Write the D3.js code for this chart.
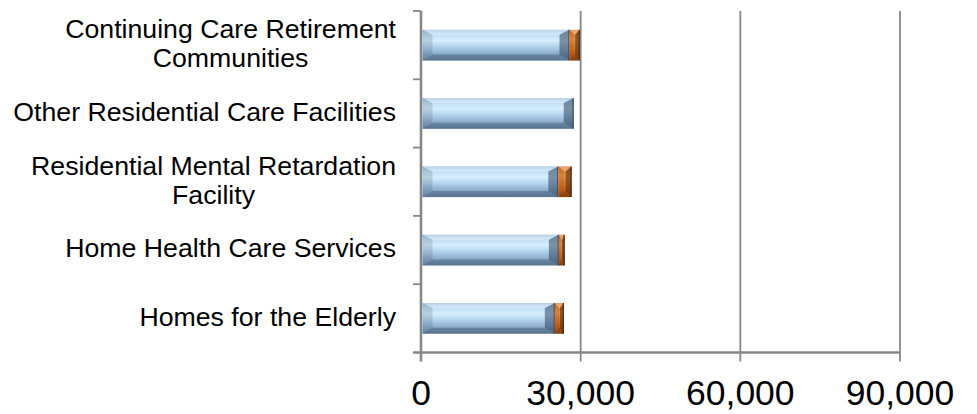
<!DOCTYPE html>
<html>
<head>
<meta charset="utf-8">
<script src="https://cdn.jsdelivr.net/npm/d3@7"></script>
<style>
  html, body { margin: 0; padding: 0; background: #ffffff; }
  svg { display: block; }
</style>
</head>
<body>
<div id="chart"></div>
<script>
// ---- data (top to bottom as displayed) ----
const categories = [
  "Continuing Care Retirement Communities",
  "Other Residential Care Facilities",
  "Residential Mental Retardation Facility",
  "Home Health Care Services",
  "Homes for the Elderly"
];
const seriesBlue   = [27900, 28700, 25800, 25900, 25150];
const seriesOrange = [1950, 0, 2500, 1100, 1700];
const tickValues = [0, 30000, 60000, 90000];

// ---- layout ----
const W = 977, H = 414;
const plot = { left: 421, right: 900, top: 11, bottom: 352.5 };

const svg = d3.select("#chart").append("svg")
  .attr("width", W).attr("height", H)
  .attr("font-family", "'Liberation Sans', Arial, sans-serif");

const x = d3.scaleLinear().domain([0, 90000]).range([plot.left, plot.right]);
const y = d3.scaleBand().domain(categories).range([plot.top, plot.bottom])
  .paddingInner(0.55).paddingOuter(0.275);
const yEdge = d3.scaleLinear().domain([0, categories.length]).range([plot.top, plot.bottom]);

const defs = svg.append("defs");
function vGrad(id, stops) {
  const g = defs.append("linearGradient").attr("id", id)
    .attr("x1", 0).attr("y1", 0).attr("x2", 0).attr("y2", 1);
  stops.forEach(s => g.append("stop").attr("offset", s[0]).attr("stop-color", s[1]));
}
vGrad("blueBody", [[0, "#9bbddc"], [0.12, "#bcdcf3"], [0.35, "#d6effd"], [0.55, "#b3d3ed"], [0.8, "#88a9c8"], [1, "#6e8daa"]]);
vGrad("orangeBody", [[0, "#d9762c"], [0.3, "#f29a4e"], [0.6, "#df7a2b"], [1, "#a9531a"]]);

const gridColor = "#878787";

// gridlines (vertical)
svg.append("g").selectAll("line.grid")
  .data(tickValues.slice(1))
  .join("line")
  .attr("x1", d => x(d)).attr("x2", d => x(d))
  .attr("y1", plot.top).attr("y2", plot.bottom + 9)
  .attr("stroke", gridColor).attr("stroke-width", 1.8);

// bevelled bar segment
function bevelSeg(g, x0, x1, yy, h, body, dark) {
  const w = x1 - x0;
  if (w <= 0) return;
  const b = Math.min(10, w / 2.2), bt = 5, bb = 6;
  g.append("rect").attr("x", x0).attr("y", yy).attr("width", w).attr("height", h)
    .attr("fill", `url(#${body})`);
  g.append("polygon").attr("points", [[x0, yy], [x1, yy], [x1 - b, yy + bt], [x0 + b, yy + bt]].join(" "))
    .attr("fill", "#ffffff").attr("opacity", 0.3);
  g.append("polygon").attr("points", [[x0, yy + h], [x1, yy + h], [x1 - b, yy + h - bb], [x0 + b, yy + h - bb]].join(" "))
    .attr("fill", dark).attr("opacity", 0.35);
  g.append("polygon").attr("points", [[x0, yy], [x0 + b, yy + bt], [x0 + b, yy + h - bb], [x0, yy + h]].join(" "))
    .attr("fill", dark).attr("opacity", 0.18);
  g.append("polygon").attr("points", [[x1, yy], [x1 - b, yy + bt], [x1 - b, yy + h - bb], [x1, yy + h]].join(" "))
    .attr("fill", dark).attr("opacity", 0.55);
  g.append("line").attr("x1", x1 - 0.6).attr("x2", x1 - 0.6).attr("y1", yy).attr("y2", yy + h)
    .attr("stroke", dark).attr("stroke-width", 1.2).attr("opacity", 0.8);
}

const bars = svg.append("g");
categories.forEach((c, i) => {
  const yy = y(c), h = y.bandwidth();
  const g = bars.append("g");
  bevelSeg(g, x(0) + 1.5, x(seriesBlue[i]), yy, h, "blueBody", "#2d4660");
  bevelSeg(g, x(seriesBlue[i]), x(seriesBlue[i] + seriesOrange[i]), yy, h, "orangeBody", "#4a2006");
});

// axes lines
const axisG = svg.append("g");
axisG.append("line").attr("x1", plot.left).attr("x2", plot.left)
  .attr("y1", plot.top).attr("y2", plot.bottom + 9)
  .attr("stroke", gridColor).attr("stroke-width", 2.6);
axisG.append("line").attr("x1", plot.left - 8).attr("x2", plot.right)
  .attr("y1", plot.bottom).attr("y2", plot.bottom)
  .attr("stroke", gridColor).attr("stroke-width", 2.6);
axisG.selectAll("line.yt").data(d3.range(categories.length))
  .join("line")
  .attr("x1", plot.left - 8).attr("x2", plot.left)
  .attr("y1", d => yEdge(d)).attr("y2", d => yEdge(d))
  .attr("stroke", gridColor).attr("stroke-width", 1.8);

// x tick labels
const fmt = d3.format(",");
svg.append("g").selectAll("text.xt").data(tickValues)
  .join("text")
  .attr("x", d => x(d)).attr("y", 405)
  .attr("text-anchor", "middle")
  .attr("font-size", 35.5)
  .attr("fill", "#000")
  .text(d => fmt(d));

// category labels with wrapping
const labelRight = 396, maxW = 400, lineH = 29, fs = 26.7;
const lg = svg.append("g");
categories.forEach(c => {
  const words = c.split(" ");
  const tmp = lg.append("text").attr("font-size", fs);
  const lines = [];
  let cur = [];
  words.forEach(wd => {
    const test = cur.concat([wd]).join(" ");
    tmp.text(test);
    if (tmp.node().getComputedTextLength() > maxW && cur.length) {
      lines.push(cur.join(" "));
      cur = [wd];
    } else cur.push(wd);
  });
  lines.push(cur.join(" "));
  let widest = 0;
  lines.forEach(l => { tmp.text(l); widest = Math.max(widest, tmp.node().getComputedTextLength()); });
  tmp.remove();
  const cx = labelRight - widest / 2;
  const cy = y(c) + y.bandwidth() / 2;
  const t = lg.append("text").attr("font-size", fs).attr("text-anchor", "middle").attr("fill", "#000");
  lines.forEach((l, k) => {
    t.append("tspan").attr("x", cx)
      .attr("y", cy + (k - (lines.length - 1) / 2) * lineH - 2)
      .attr("dy", "0.35em")
      .text(l);
  });
});
</script>
</body>
</html>
